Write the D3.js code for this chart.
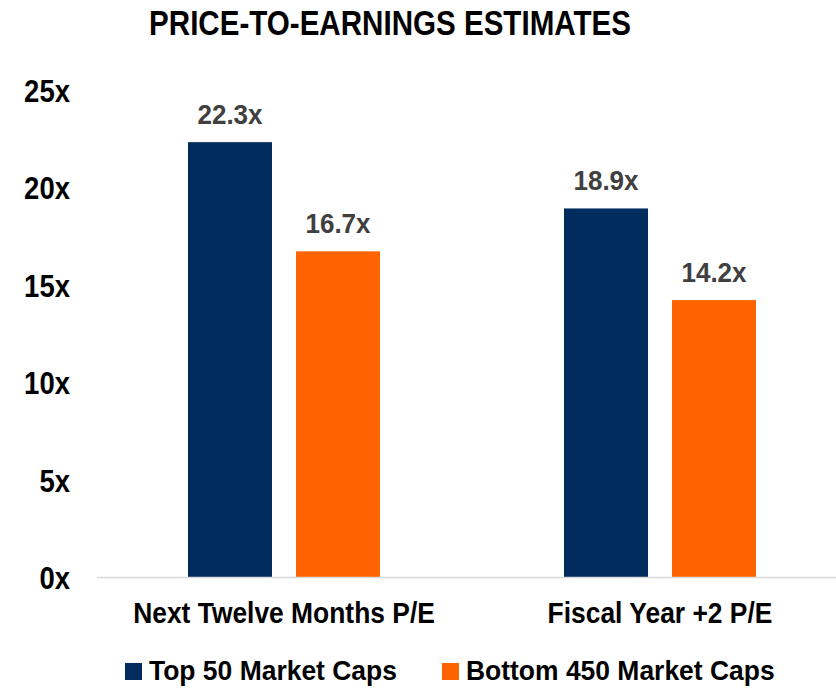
<!DOCTYPE html>
<html>
<head>
<meta charset="utf-8">
<script src="https://cdn.jsdelivr.net/npm/d3@7"></script>
<style>
  html, body { margin: 0; padding: 0; background: #ffffff; }
  svg { display: block; }
  .narrow { font-family: "Liberation Sans", Arial, sans-serif; font-weight: bold; }
</style>
</head>
<body>
<svg id="chart" width="836" height="688"></svg>
<script>
const title = "PRICE-TO-EARNINGS ESTIMATES";
const categories = ["Next Twelve Months P/E", "Fiscal Year +2 P/E"];
const seriesNames = ["Top 50 Market Caps", "Bottom 450 Market Caps"];
const top50 = [22.3, 18.9];
const bottom450 = [16.7, 14.2];
const yTicks = [0, 5, 10, 15, 20, 25];
const colors = ["#002D5E", "#FF6200"];

const seriesValues = [top50, bottom450];
const W = 836, H = 688;
const svg = d3.select("#chart");

const y = d3.scaleLinear().domain([0, 25]).range([577, 89.5]);
const x0 = d3.scaleBand().domain(categories).range([96, 848]).padding(0);
const x1 = d3.scaleBand().domain(seriesNames).range([92, 284]).paddingInner(0.2222).paddingOuter(0);

// title
svg.append("text").attr("class", "narrow")
  .attr("transform", "translate(390,35) scale(0.845,1)")
  .attr("text-anchor", "middle")
  .attr("font-size", 35).attr("fill", "#000")
  .text(title);

// y axis
const yAxis = d3.axisLeft(y).tickValues(yTicks).tickSize(0).tickPadding(0)
  .tickFormat(d => d + "x");
const gy = svg.append("g").attr("transform", "translate(70,0)").call(yAxis);
gy.select(".domain").remove();
gy.selectAll("text").attr("class", "narrow").attr("font-size", 32)
  .attr("fill", "#000").attr("x", 0).attr("dy", "0.36em")
  .attr("transform", "scale(0.86,1)");

// bars
const groups = svg.append("g").selectAll("g").data(categories).join("g")
  .attr("transform", d => `translate(${x0(d)},0)`);

const barData = (c, i) => seriesNames.map((s, k) => ({ s, k, v: seriesValues[k][i] }));

groups.selectAll("rect").data((c, i) => barData(c, i)).join("rect")
  .attr("x", d => x1(d.s)).attr("width", x1.bandwidth())
  .attr("y", d => y(d.v)).attr("height", d => y(0) - y(d.v))
  .attr("fill", d => colors[d.k]);

groups.selectAll("text.val").data((c, i) => barData(c, i)).join("text")
  .attr("class", "val narrow")
  .attr("transform", d => `translate(${x1(d.s) + x1.bandwidth() / 2},${y(d.v) - 18}) scale(0.93,1)`)
  .attr("text-anchor", "middle")
  .attr("font-size", 28).attr("fill", "#404040")
  .text(d => d.v.toFixed(1) + "x");

// x axis
const xAxis = d3.axisBottom(x0).tickSize(0).tickPadding(0).tickSizeOuter(0);
const gx = svg.append("g").attr("transform", "translate(0,577)").call(xAxis);
gx.select(".domain").attr("stroke", "#d9d9d9").attr("stroke-width", 1.5)
  .attr("d", `M${97},0.5H${W}`);
gx.selectAll("text").attr("class", "narrow").attr("font-size", 30)
  .attr("fill", "#000").attr("dy", null).attr("x", 0).attr("y", 46)
  .attr("transform", "scale(0.88,1)");

// legend
const legend = svg.append("g");
const legendScale = 0.945;
let lx = 125;
seriesNames.forEach((s, k) => {
  legend.append("rect").attr("x", lx).attr("y", 663).attr("width", 17).attr("height", 17)
    .attr("fill", colors[k]);
  const t = legend.append("text").attr("class", "narrow")
    .attr("transform", `translate(${lx + 24},680) scale(${legendScale},1)`)
    .attr("font-size", 28).attr("fill", "#000")
    .text(s);
  lx = lx + 24 + t.node().getComputedTextLength() * legendScale + 45;
});
</script>
</body>
</html>
